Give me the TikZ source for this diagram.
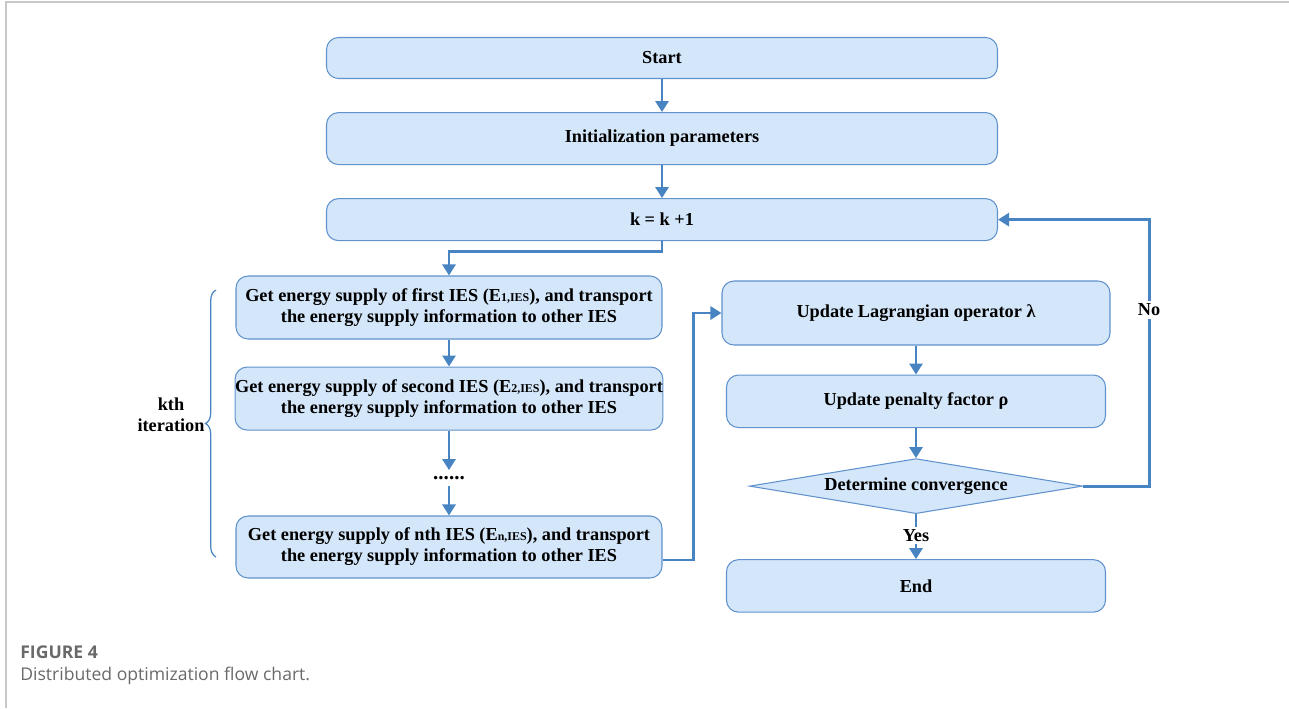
\documentclass[tikz,border=0pt]{standalone}
\usepackage{fontspec}
\setmainfont{Liberation Serif}
\newfontfamily\captionfont{Open Sans}
\usetikzlibrary{arrows.meta, positioning, calc, shapes.geometric, decorations.pathreplacing}

\definecolor{boxFill}{RGB}{212,230,249}
\definecolor{boxLine}{RGB}{96,146,204}
\definecolor{flowBlue}{RGB}{72,132,194}
\definecolor{frameGray}{RGB}{200,200,200}
\definecolor{capGray}{RGB}{105,105,105}

\newcommand{\esub}[1]{{\fontsize{6.8}{7}\selectfont #1}}

\begin{document}
\begin{tikzpicture}[
        node distance=0.6cm,
        stepBox/.style={
            draw=boxLine,
            fill=boxFill,
            rounded corners=2.4mm,
            line width=0.6pt,
            minimum width=13.42cm,
            inner sep=0pt,
            align=center,
            font=\fontsize{10.4}{12}\selectfont\bfseries
        },
        iesBox/.style={
            stepBox,
            minimum width=8.52cm,
            minimum height=1.26cm
        },
        sideBox/.style={
            stepBox,
            minimum width=7.58cm,
            minimum height=1.05cm
        },
        decision/.style={
            diamond,
            aspect=6,
            draw=boxLine,
            fill=boxFill,
            line width=0.6pt,
            inner sep=0pt,
            minimum width=6.66cm,
            minimum height=1.1cm,
            font=\fontsize{10.4}{12}\selectfont\bfseries
        },
        flow/.style={
            -{Triangle[length=2.2mm, width=2.6mm]},
            line width=1.6pt,
            draw=flowBlue
        },
        answer/.style={
            fill=white,
            inner sep=1.5pt,
            font=\fontsize{10.4}{12}\selectfont\bfseries
        }
    ]

        % Frame and size
        \useasboundingbox (0,0) rectangle (25.78,-14.16);
        \draw[frameGray, line width=0.8pt] (0.12,-14.16) -- (0.12,-0.04) -- (25.78,-0.04);

        % Main column
        \node[stepBox, minimum height=0.82cm] (start) at (13.24,-1.16) {Start};
        \node[stepBox, minimum height=1.04cm, below=0.66cm of start] (init) {Initialization parameters};
        \node[stepBox, minimum height=0.84cm, below=0.66cm of init] (kstep) {k = k +1};

        % Left column: one pass over all IES
        \node[iesBox] (first) at (8.98,-6.15)
            {Get energy supply of first IES (E\esub{1,IES}), and transport\\
             the energy supply information to other IES};
        \node[iesBox, below=0.54cm of first] (second)
            {Get energy supply of second IES (E\esub{2,IES}), and transport\\
             the energy supply information to other IES};
        \node[font=\large\bfseries] (dots) at (8.98,-9.56) {......};
        \node[iesBox, minimum height=1.24cm] (nth) at (8.98,-10.94)
            {Get energy supply of nth IES (E\esub{n,IES}), and transport\\
             the energy supply information to other IES};

        % Right column: updates and check
        \node[sideBox, minimum width=7.76cm, minimum height=1.28cm] (lagr) at (18.32,-6.26) {Update Lagrangian operator λ};
        \node[sideBox, below=0.58cm of lagr] (penalty) {Update penalty factor ρ};
        \node[decision, below=0.6cm of penalty] (conv) {Determine convergence};
        \node[sideBox, below=0.9cm of conv] (finish) {End};

        % Iteration brace
        \draw[flowBlue, line width=0.7pt, decorate, decoration={brace, amplitude=6pt}]
            (4.32,-11.14) -- (4.32,-5.8);
        \node[align=center, font=\fontsize{10.4}{12}\selectfont\bfseries] (kth) at (3.42,-8.3) {kth\\iteration};

        % Connectors
        \draw[flow] (start) -- (init);
        \draw[flow] (init) -- (kstep);
        \draw[flow] (kstep.south) -- ++(0,-0.2) -| (first.north);
        \draw[flow] (first) -- (second);
        \draw[flow] (second) -- (dots);
        \draw[flow] (dots) -- (nth);
        \draw[flow] ($(nth.east)+(0,-0.26)$) -- ++(0.62,0) |- (lagr.west);
        \draw[flow] (lagr) -- (penalty);
        \draw[flow] (penalty) -- (conv);

        % Convergence branches
        \coordinate (noTurn) at ($(conv.east)+(1.33,0)$);
        \draw[flow] (conv.east) -- (noTurn) |- (kstep.east);
        \node[answer] (no) at (22.98,-6.2) {No};
        \draw[flow] (conv) -- (finish) node[answer, pos=0.48] (yes) {Yes};

        % Caption
        \node[anchor=west, font=\captionfont\fontsize{10}{12}\selectfont\bfseries, text=capGray, inner sep=0pt] (figno) at (0.4,-13.04) {FIGURE 4};
        \node[anchor=west, font=\captionfont\fontsize{10}{12}\selectfont, text=capGray, inner sep=0pt] (figtext) at (0.4,-13.52) {Distributed optimization flow chart.};

    \end{tikzpicture}
\end{document}
